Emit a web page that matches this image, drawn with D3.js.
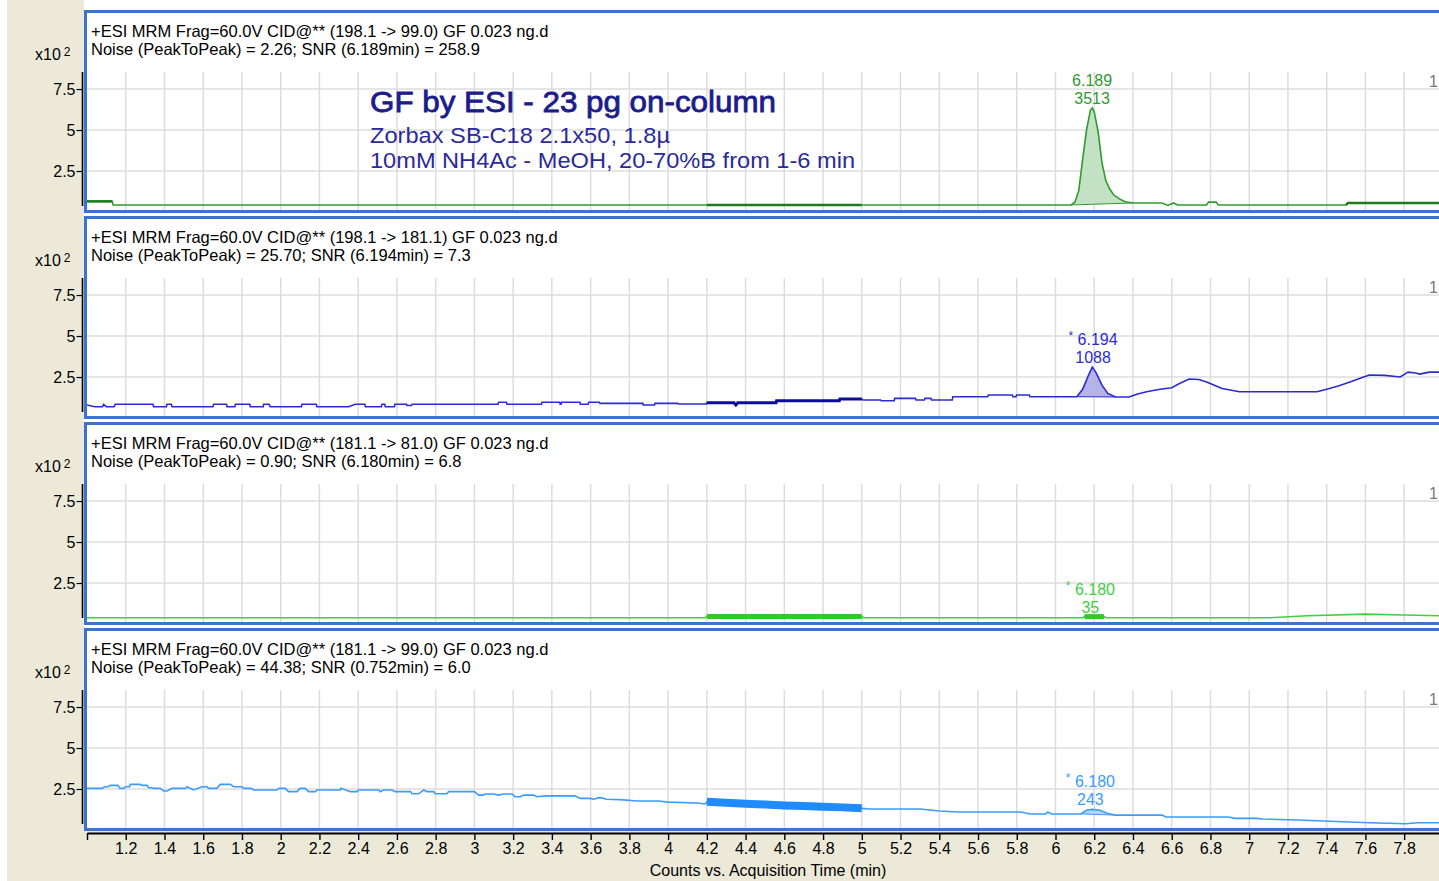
<!DOCTYPE html>
<html>
<head>
<meta charset="utf-8">
<script src="https://cdn.jsdelivr.net/npm/d3@7"></script>
<style>
  body { margin: 0; background: #fff; }
  svg text { font-family: "Liberation Sans", Arial, sans-serif; }
</style>
</head>
<body>
<svg id="chart"></svg>
<script>
/* MRM chromatograms, 4 stacked transitions, shared time axis */

const W = 1439, H = 881;

// time axis ticks (min); 1.0 is drawn without label, 8.0 only as a grid line
const TIME_TICKS = [1.0, 1.2, 1.4, 1.6, 1.8, 2.0, 2.2, 2.4, 2.6, 2.8, 3.0, 3.2, 3.4, 3.6, 3.8,
                    4.0, 4.2, 4.4, 4.6, 4.8, 5.0, 5.2, 5.4, 5.6, 5.8, 6.0, 6.2, 6.4, 6.6, 6.8,
                    7.0, 7.2, 7.4, 7.6, 7.8, 8.0];
const COUNT_TICKS = [2.5, 5, 7.5];   // x10^2 counts

// header info per panel
const TRANSITIONS = ["(198.1 -> 99.0)", "(198.1 -> 181.1)", "(181.1 -> 81.0)", "(181.1 -> 99.0)"];
const NOISE       = ["2.26", "25.70", "0.90", "44.38"];
const SNR_TIME    = ["6.189", "6.194", "6.180", "0.752"];
const SNR         = ["258.9", "7.3", "6.8", "6.0"];

// integrated peak per panel
const PEAK_RT     = [6.189, 6.194, 6.180, 6.180];
const PEAK_STAR   = [false, true, true, true];
const PEAK_AREA   = [3513, 1088, 35, 243];
const PEAK_START  = [6.08, 6.11, 6.15, 6.13];
const PEAK_END    = [6.40, 6.31, 6.25, 6.31];

// traces: [time (min), counts x10^2]
const TRACE_198_99 = [
  [1.00, 0.65], [1.13, 0.65], [1.135, 0.43], [2.5, 0.43], [4.20, 0.43], [4.6, 0.43], [5.00, 0.43],
  [6.08, 0.43], [6.10, 0.6], [6.12, 1.3], [6.14, 3.2], [6.16, 5.0], [6.18, 6.2], [6.19, 6.35],
  [6.20, 6.1], [6.22, 4.9], [6.24, 3.0], [6.26, 1.9], [6.28, 1.4], [6.30, 1.05], [6.33, 0.8],
  [6.36, 0.62], [6.40, 0.55], [6.55, 0.55], [6.58, 0.4], [6.61, 0.55], [6.63, 0.43], [6.78, 0.43],
  [6.79, 0.6], [6.83, 0.6], [6.84, 0.43], [7.50, 0.43], [7.51, 0.55], [8.00, 0.55]
];
const TRACE_198_181 = [
  [1.0, 0.79], [1.04, 0.69], [1.08, 0.69], [1.086, 0.82], [1.10, 0.69], [1.14, 0.69], [1.146, 0.84],
  [1.34, 0.84], [1.344, 0.69], [1.41, 0.69], [1.413, 0.84], [1.435, 0.84], [1.439, 0.69], [1.65, 0.69],
  [1.654, 0.84], [1.72, 0.84], [1.723, 0.69], [1.763, 0.69], [1.766, 0.84], [1.84, 0.84], [1.843, 0.69],
  [1.91, 0.69], [1.912, 0.84], [1.94, 0.84], [1.946, 0.69], [2.107, 0.69], [2.11, 0.84], [2.184, 0.84],
  [2.187, 0.69], [2.35, 0.69], [2.385, 0.84], [2.435, 0.84], [2.437, 0.69], [2.52, 0.69], [2.523, 0.84],
  [2.537, 0.84], [2.54, 0.69], [2.587, 0.69], [2.59, 0.84], [2.65, 0.84], [2.652, 0.76], [2.675, 0.76],
  [2.678, 0.84], [3.122, 0.84], [3.125, 0.96], [3.165, 0.96], [3.168, 0.84], [3.346, 0.84], [3.349, 0.96],
  [3.44, 0.96], [3.443, 0.84], [3.447, 0.84], [3.45, 0.96], [3.545, 0.96], [3.547, 0.84], [3.587, 0.84],
  [3.59, 0.96], [3.645, 0.96], [3.648, 0.89], [3.87, 0.89], [3.872, 0.79], [3.93, 0.79], [3.932, 0.89],
  [4.05, 0.89], [4.053, 0.85], [4.198, 0.85], [4.2, 0.93], [4.34, 0.93], [4.35, 0.79], [4.36, 0.93],
  [4.557, 0.93], [4.56, 1.05], [4.884, 1.05], [4.887, 1.16], [5.0, 1.16], [5.007, 1.1], [5.097, 1.1],
  [5.1, 1.05], [5.167, 1.05], [5.17, 1.2], [5.277, 1.2], [5.28, 1.1], [5.323, 1.1], [5.326, 1.2],
  [5.357, 1.2], [5.36, 1.1], [5.467, 1.1], [5.47, 1.3], [5.65, 1.3], [5.653, 1.4], [5.777, 1.4],
  [5.78, 1.3], [5.796, 1.3], [5.799, 1.4], [5.865, 1.4], [5.868, 1.3], [6.11, 1.3],
  [6.14, 1.75], [6.17, 2.6], [6.19, 3.1], [6.21, 2.75], [6.24, 2.0], [6.27, 1.5], [6.31, 1.28],
  [6.38, 1.28], [6.42, 1.45], [6.47, 1.6], [6.54, 1.75], [6.60, 1.85], [6.64, 2.1], [6.69, 2.38],
  [6.74, 2.35], [6.78, 2.2], [6.82, 2.0], [6.86, 1.8], [6.95, 1.6], [7.35, 1.6], [7.40, 1.75],
  [7.46, 1.95], [7.52, 2.2], [7.58, 2.45], [7.62, 2.62], [7.70, 2.6], [7.78, 2.5], [7.82, 2.8],
  [7.86, 2.75], [7.88, 2.68], [7.93, 2.8], [8.00, 2.8]
];
const TRACE_181_81 = [
  [1.00, 0.38], [2.0, 0.38], [3.0, 0.38], [4.19, 0.38], [4.20, 0.46], [4.6, 0.46], [5.00, 0.46],
  [5.01, 0.38], [6.14, 0.38], [6.15, 0.45], [6.25, 0.45], [6.26, 0.38], [7.10, 0.38], [7.3, 0.5],
  [7.6, 0.6], [7.8, 0.55], [8.00, 0.5]
];
const TRACE_181_99 = [
  [1.00, 2.54], [1.08, 2.54], [1.09, 2.64], [1.11, 2.64], [1.12, 2.72], [1.16, 2.72], [1.17, 2.54],
  [1.19, 2.54], [1.198, 2.64], [1.22, 2.64], [1.224, 2.78], [1.275, 2.78], [1.284, 2.72], [1.31, 2.72],
  [1.318, 2.58], [1.335, 2.58], [1.344, 2.54], [1.378, 2.54], [1.396, 2.38], [1.413, 2.38],
  [1.439, 2.54], [1.508, 2.54], [1.516, 2.64], [1.55, 2.44], [1.594, 2.64], [1.62, 2.64],
  [1.628, 2.54], [1.67, 2.54], [1.688, 2.78], [1.74, 2.78], [1.757, 2.64], [1.80, 2.64],
  [1.809, 2.54], [1.85, 2.54], [1.86, 2.44], [1.98, 2.44], [1.99, 2.54], [2.024, 2.54],
  [2.04, 2.34], [2.084, 2.34], [2.10, 2.54], [2.127, 2.54], [2.144, 2.34], [2.18, 2.34],
  [2.187, 2.44], [2.308, 2.44], [2.311, 2.54], [2.36, 2.34], [2.394, 2.34], [2.402, 2.44],
  [2.506, 2.44], [2.514, 2.34], [2.53, 2.44], [2.574, 2.44], [2.59, 2.34], [2.67, 2.34],
  [2.678, 2.21], [2.712, 2.21], [2.738, 2.44], [2.755, 2.34], [2.79, 2.34], [2.798, 2.21],
  [2.858, 2.21], [2.867, 2.34], [3.0, 2.34], [3.022, 2.13], [3.048, 2.13], [3.056, 2.2],
  [3.10, 2.2], [3.125, 2.13], [3.15, 2.2], [3.194, 2.2], [3.21, 2.03], [3.237, 2.03],
  [3.254, 2.13], [3.306, 2.13], [3.323, 2.03], [3.366, 2.08], [3.52, 2.08], [3.547, 1.93],
  [3.598, 1.93], [3.615, 1.88], [3.64, 1.96], [3.658, 1.96], [3.684, 1.88], [3.75, 1.85],
  [3.84, 1.77], [3.95, 1.77], [4.0, 1.7], [4.15, 1.65], [4.19, 1.59],
  [4.2, 1.72], [4.3, 1.66], [4.4, 1.6], [4.5, 1.56], [4.6, 1.5], [4.7, 1.46], [4.8, 1.42],
  [4.9, 1.38], [5.0, 1.32], [5.04, 1.28], [5.3, 1.28], [5.4, 1.16], [5.5, 1.1], [5.82, 1.1],
  [5.87, 0.98], [5.95, 0.98], [5.96, 1.1], [5.98, 0.98], [6.13, 0.98], [6.16, 1.2], [6.19, 1.26],
  [6.23, 1.2], [6.27, 1.0], [6.31, 0.91], [6.55, 0.91], [6.57, 0.79], [6.89, 0.79], [6.93, 0.71],
  [7.04, 0.71], [7.07, 0.67], [7.25, 0.61], [7.62, 0.44], [7.81, 0.38], [7.87, 0.44], [8.00, 0.44]
];
const TRACES = [TRACE_198_99, TRACE_198_181, TRACE_181_81, TRACE_181_99];

// stretches drawn with a heavier pen
const BOLD_SPANS = [[[1.0, 1.13], [4.2, 5.0], [7.5, 8.0]], [[4.2, 5.0]], [[4.2, 5.0], [6.15, 6.25]], [[4.2, 5.0]]];

const LINE_COLORS = ["#2f9a2f", "#2b2bd4", "#3fcf3f", "#3a9cff"];
const BOLD_COLORS = ["#1f7a1f", "#0c0c9c", "#2ccb2c", "#1e8cff"];
const BOLD_WIDTH  = [2.5, 3, 5, 8];
const FILL_COLORS = ["#c3e2c3", "#b4b4ea", "#bdf0bd", "#b3d6fa"];
const BEIGE = "#ece9d8";
const BORDER = "#3b74d0";

const svg = d3.select("#chart").attr("width", W).attr("height", H);
svg.append("rect").attr("width", W).attr("height", H).attr("fill", "#fff");
svg.append("rect").attr("x", 7).attr("width", 77).attr("height", H).attr("fill", BEIGE);
svg.append("rect").attr("x", 7).attr("y", 831).attr("width", W - 7).attr("height", H - 831).attr("fill", BEIGE);

const x = d3.scaleLinear().domain([1, 8]).range([87, 87 + 7 * 193.7]);
const xy = y => d3.line().x(d => x(d[0])).y(d => y(d[1]));

TRACES.forEach((trace, i) => {
  const top = 10 + 206 * i;
  const y = d3.scaleLinear().domain([0, 8.6]).range([top + 202, top + 61]);
  const g = svg.append("g");

  g.append("rect").attr("x", 85.5).attr("y", top + 1.5).attr("width", 1400).attr("height", 200).attr("fill", "#fff");

  // grid
  g.selectAll(".vg").data(TIME_TICKS.filter(t => t > 1)).join("line")
    .attr("x1", d => x(d)).attr("x2", d => x(d))
    .attr("y1", top + 62).attr("y2", top + 201)
    .attr("stroke", "#dcdcdc").attr("stroke-width", 1.5);
  g.selectAll(".hg").data(COUNT_TICKS).join("line")
    .attr("x1", 87).attr("x2", W)
    .attr("y1", d => y(d)).attr("y2", d => y(d))
    .attr("stroke", "#dcdcdc").attr("stroke-width", 1.5);

  // header
  g.append("text").attr("x", 91).attr("y", top + 27).attr("font-size", 16.5).attr("fill", "#000")
    .text(`+ESI MRM Frag=60.0V CID@** ${TRANSITIONS[i]} GF 0.023 ng.d`);
  g.append("text").attr("x", 91).attr("y", top + 45).attr("font-size", 16.5).attr("fill", "#000")
    .text(`Noise (PeakToPeak) = ${NOISE[i]}; SNR (${SNR_TIME[i]}min) = ${SNR[i]}`);
  g.append("text").attr("x", 1429).attr("y", top + 77).attr("font-size", 16).attr("fill", "#777").text("1");

  // clip to plot area
  const clipId = "clip" + i;
  g.append("clipPath").attr("id", clipId).append("rect")
    .attr("x", 87).attr("y", top + 58).attr("width", W).attr("height", 143);
  const plot = g.append("g").attr("clip-path", `url(#${clipId})`);

  // integrated peak fill down to the start-end baseline
  const s = PEAK_START[i], e = PEAK_END[i];
  const pk = trace.filter(d => d[0] >= s && d[0] <= e);
  const v0 = pk[0][1], v1 = pk[pk.length - 1][1];
  const base = t => v0 + (v1 - v0) * (t - s) / (e - s);
  plot.append("path").datum(pk)
    .attr("fill", FILL_COLORS[i]).attr("stroke", "none")
    .attr("d", d3.area().x(d => x(d[0])).y0(d => y(base(d[0]))).y1(d => y(d[1])));
  plot.append("path").datum([pk[0], pk[pk.length - 1]])
    .attr("fill", "none").attr("stroke", LINE_COLORS[i]).attr("stroke-width", 1)
    .attr("d", xy(y));

  plot.append("path").datum(trace)
    .attr("fill", "none").attr("stroke", LINE_COLORS[i]).attr("stroke-width", 1.6)
    .attr("d", xy(y));
  BOLD_SPANS[i].forEach(([a, b]) => {
    plot.append("path").datum(trace.filter(d => d[0] >= a && d[0] <= b))
      .attr("fill", "none").attr("stroke", BOLD_COLORS[i]).attr("stroke-width", BOLD_WIDTH[i])
      .attr("d", xy(y));
  });

  // peak labels above the apex
  const apex = d3.max(pk, d => d[1]);
  const ly = y(apex) - 4;
  const rt = g.append("text").attr("x", x(PEAK_RT[i])).attr("y", ly - 18)
    .attr("text-anchor", "middle").attr("font-size", 16).attr("fill", LINE_COLORS[i]);
  if (PEAK_STAR[i]) {
    rt.append("tspan").attr("font-size", 12).attr("dy", -5).text("*");
    rt.append("tspan").attr("dy", 5).text(" " + PEAK_RT[i].toFixed(3));
  } else {
    rt.text(PEAK_RT[i].toFixed(3));
  }
  g.append("text").attr("x", x(PEAK_RT[i])).attr("y", ly)
    .attr("text-anchor", "middle").attr("font-size", 16).attr("fill", LINE_COLORS[i])
    .text(PEAK_AREA[i]);

  // panel frame
  g.append("rect").attr("x", 85.5).attr("y", top + 1.5).attr("width", 1400).attr("height", 200)
    .attr("fill", "none").attr("stroke", BORDER).attr("stroke-width", 3);

  // y axis
  const ya = g.append("g").attr("transform", "translate(82.5,0)")
    .call(d3.axisLeft(y).tickValues(COUNT_TICKS).tickSize(6).tickPadding(1).tickFormat(d => String(d)));
  ya.select(".domain").remove();
  ya.selectAll("text").attr("font-size", 16).attr("fill", "#000").attr("font-family", null);
  ya.selectAll("line").attr("stroke", "#000").attr("stroke-width", 1.2);
  g.append("line").attr("x1", 82.5).attr("x2", 82.5).attr("y1", top + 62).attr("y2", top + 196)
    .attr("stroke", "#000").attr("stroke-width", 1.6);

  const ex = g.append("text").attr("x", 35).attr("y", top + 50).attr("font-size", 16).attr("fill", "#000");
  ex.append("tspan").text("x10");
  ex.append("tspan").attr("dx", 3).attr("dy", -4).attr("font-size", 12).text("2");
});

// main annotation in the first panel
svg.append("text").attr("x", 370).attr("y", 112).attr("font-size", 29)
  .attr("fill", "#1c1c8c").attr("stroke", "#1c1c8c").attr("stroke-width", 0.8)
  .attr("textLength", 406).attr("lengthAdjust", "spacingAndGlyphs")
  .text("GF by ESI - 23 pg on-column");
svg.append("text").attr("x", 370).attr("y", 143).attr("font-size", 22)
  .attr("fill", "#2a2a9a").attr("textLength", 300).attr("lengthAdjust", "spacingAndGlyphs")
  .text("Zorbax SB-C18 2.1x50, 1.8µ");
svg.append("text").attr("x", 370).attr("y", 168).attr("font-size", 22)
  .attr("fill", "#2a2a9a").attr("textLength", 485).attr("lengthAdjust", "spacingAndGlyphs")
  .text("10mM NH4Ac - MeOH, 20-70%B from 1-6 min");

// shared time axis (labels stop at 7.8, the window edge)
const xa = svg.append("g").attr("transform", "translate(0,833)")
  .call(d3.axisBottom(x).tickValues(TIME_TICKS.filter(t => t < 7.9)).tickSize(7).tickSizeOuter(0).tickPadding(3)
    .tickFormat(d => d === 1 ? "" : d3.format("~g")(d)));
xa.select(".domain").attr("stroke", "#000").attr("stroke-width", 2);
xa.selectAll("line").attr("stroke", "#000").attr("stroke-width", 1.4);
xa.selectAll("text").attr("font-size", 16).attr("fill", "#000").attr("font-family", null);

svg.append("text").attr("x", 768).attr("y", 876).attr("text-anchor", "middle")
  .attr("font-size", 16).attr("fill", "#000").text("Counts vs. Acquisition Time (min)");
</script>
</body>
</html>
